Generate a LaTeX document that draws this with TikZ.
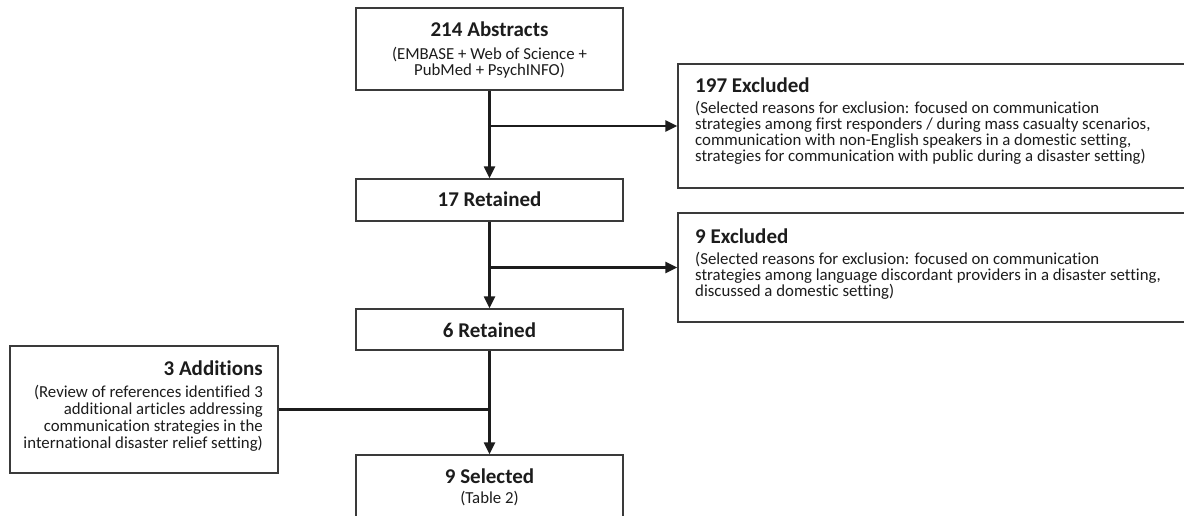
\documentclass[tikz,border=0pt]{standalone}
\usepackage{fontspec}
\setmainfont{Carlito}[Ligatures={NoCommon}]
\usetikzlibrary{arrows.meta}
\newcommand\Lline[1]{\hbox{#1}}
\newcommand\Cline[1]{\hbox to 260pt{\hfil#1\hfil}}
\newcommand\Rline[1]{\hbox to 262pt{\hfil#1}}
\definecolor{ink}{HTML}{1C1C1C}
\definecolor{boxline}{HTML}{3A3A3A}
\tikzset{
  box/.style={draw=boxline, line width=1.3pt, rectangle, inner sep=0pt},
  head/.style={inner sep=0pt, text=ink, font=\fontsize{21}{21}\selectfont\bfseries},
  body/.style={inner sep=0pt, text=ink, font=\fontsize{16.8}{16}\selectfont},
  arr/.style={draw=ink, line width=2.2pt, -{Triangle[length=12pt,width=11pt]}},
  conn/.style={draw=ink, line width=2.2pt}
}
\begin{document}
\begin{tikzpicture}[x=1pt,y=-1pt]
\useasboundingbox (0,0) rectangle (1184,516);
\fill[white] (0,0) rectangle (1184,516);
\clip (0,0) rectangle (1184,516);
% boxes
\node[box, minimum width=267pt, minimum height=82pt] (b1) at (489.5,49) {};
\node[box, minimum width=540pt, minimum height=124pt] (ex1) at (948,126) {};
\node[box, minimum width=267pt, minimum height=42pt] (b17) at (489.5,200) {};
\node[box, minimum width=540pt, minimum height=109pt] (ex2) at (948,267.5) {};
\node[box, minimum width=267pt, minimum height=41pt] (b6) at (489.5,329.5) {};
\node[box, minimum width=268pt, minimum height=127pt] (add) at (144,409.5) {};
\node[box, minimum width=267pt, minimum height=90pt] (sel) at (489.5,500) {};
% texts
\node[head, anchor=base] (t1h) at (489.5,37) {214 Abstracts};
\node[body, anchor=base] (t1b) at (489.5,60) {\vtop{\Cline{(EMBASE + Web of Science +}\Cline{PubMed + PsychINFO)}}};
\node[head, anchor=base west] (e1h) at (695,93) {197 Excluded};
\node[body, anchor=base west] (e1b) at (695,114) {\vtop{%
  \Lline{(Selected reasons for exclusion: focused on communication}%
  \Lline{strategies among first responders / during mass casualty scenarios,}%
  \Lline{communication with non-English speakers in a domestic setting,}%
  \Lline{strategies for communication with public during a disaster setting)}}};
\node[head, anchor=base] (t17) at (489.5,207) {17 Retained};
\node[head, anchor=base west] (e2h) at (695,243) {9 Excluded};
\node[body, anchor=base west] (e2b) at (695,264) {\vtop{%
  \Lline{(Selected reasons for exclusion: focused on communication}%
  \Lline{strategies among language discordant providers in a disaster setting,}%
  \Lline{discussed a domestic setting)}}};
\node[head, anchor=base] (t6) at (489.5,337) {6 Retained};
\node[head, anchor=base east] (ah) at (263,375) {3 Additions};
\node[body, anchor=base east] (ab) at (263,397) {\vtop{\baselineskip=17pt
  \Rline{(Review of references identified 3}%
  \Rline{additional articles addressing}%
  \Rline{communication strategies in the}%
  \Rline{international disaster relief setting)}}};
\node[head, anchor=base] (sh) at (489.5,483) {9 Selected};
\node[body, anchor=base] (sb) at (489.5,503) {(Table 2)};
% connectors
\draw[arr] (b1.south) -- (b17.north);
\draw[arr] (b1.south |- ex1.west) -- (ex1.west);
\draw[arr] (b17.south) -- (b6.north);
\draw[arr] (b17.south |- ex2.west) -- (ex2.west);
\draw[arr] (b6.south) -- (sel.north);
\draw[conn] (add.east) -- (add.east -| b6.south);
\end{tikzpicture}
\end{document}
